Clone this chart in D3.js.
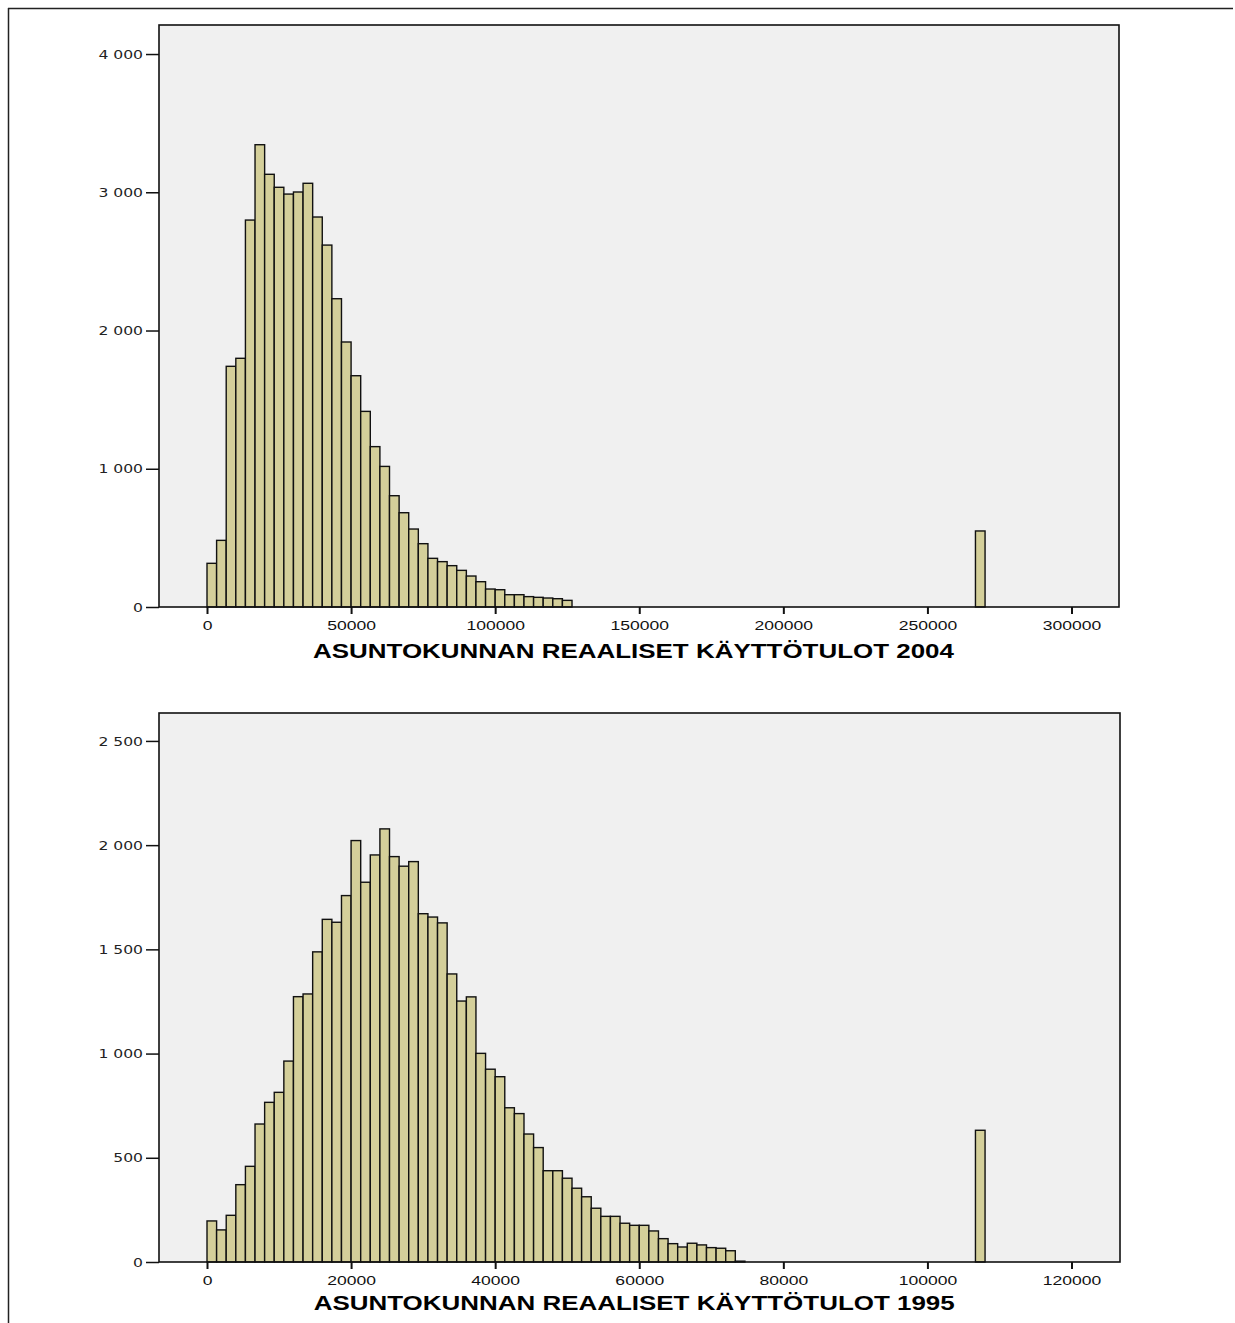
<!DOCTYPE html>
<html>
<head>
<meta charset="utf-8">
<script src="https://cdn.jsdelivr.net/npm/d3@7"></script>
<style>
  body { margin: 0; background: #fff; }
</style>
</head>
<body>
<div id="chart"></div>
<script>
// histogram counts (bin width = 1/30 of 100000, 1/15 of 20000)
var bins2004 = [316, 482, 1741, 1799, 2799, 3344, 3130, 3036, 2987, 3002, 3065, 2821, 2618, 2230, 1917, 1673,
  1415, 1160, 1017, 805, 682, 564, 458, 352, 328, 299, 265, 224, 183, 130, 125, 89, 89, 75, 70, 65, 60, 48];
var outlierBin2004 = [80];
var outlierCount2004 = [550];
var binWidth2004 = 100000 / 30;
var xTicks2004 = [0, 50000, 100000, 150000, 200000, 250000, 300000];
var yTicks2004 = [0, 1000, 2000, 3000, 4000];

var bins1995 = [197, 154, 224, 371, 459, 662, 766, 814, 964, 1273, 1286, 1488, 1644, 1630, 1758, 2022, 1822,
  1953, 2078, 1945, 1899, 1921, 1671, 1655, 1627, 1382, 1252, 1272, 1001, 925, 889, 740, 712, 614, 549, 438,
  438, 402, 354, 313, 258, 219, 219, 186, 176, 176, 149, 112, 88, 72, 90, 82, 69, 66, 54, 4];
var outlierBin1995 = [80];
var outlierCount1995 = [632];
var binWidth1995 = 20000 / 15;
var xTicks1995 = [0, 20000, 40000, 60000, 80000, 100000, 120000];
var yTicks1995 = [0, 500, 1000, 1500, 2000, 2500];

var titles = ["ASUNTOKUNNAN REAALISET KÄYTTÖTULOT 2004", "ASUNTOKUNNAN REAALISET KÄYTTÖTULOT 1995"];

var W = 1235, H = 1323;
var svg = d3.select("#chart").append("svg")
  .attr("width", W).attr("height", H);

// outer frame (only top and left visible)
svg.append("line").attr("x1", 8).attr("x2", 1233).attr("y1", 8.5).attr("y2", 8.5)
  .attr("stroke", "#222").attr("stroke-width", 1.5);
svg.append("line").attr("x1", 8.5).attr("x2", 8.5).attr("y1", 8).attr("y2", H)
  .attr("stroke", "#222").attr("stroke-width", 1.5);

var spaceFmt = function(d) { return d3.format(",")(d).replace(/,/g, " "); };

// the original's text is stretched sideways
function stretch(sel, s) {
  sel.each(function() {
    var t = d3.select(this);
    var x0 = +t.attr("x") || 0;
    t.attr("x", x0 / s).attr("transform", "scale(" + s + ",1)");
  });
}

function histogram(opt) {
  var x = d3.scaleLinear().domain(opt.xDomain).range([opt.left, opt.right]);
  var y = d3.scaleLinear().domain(opt.yDomain).range([opt.bottom, opt.top]);
  var g = svg.append("g");

  g.append("rect")
    .attr("x", opt.left).attr("y", opt.top)
    .attr("width", opt.right - opt.left).attr("height", opt.bottom - opt.top)
    .attr("fill", "#f0f0f0").attr("stroke", "none");

  var data = opt.counts.map(function(c, i) { return {bin: i, count: c}; });
  opt.outBins.forEach(function(b, i) { data.push({bin: b, count: opt.outCounts[i]}); });

  g.selectAll("rect.bar")
    .data(data)
    .join("rect")
    .attr("class", "bar")
    .attr("x", function(d) { return x(d.bin * opt.binWidth); })
    .attr("width", function(d) { return x((d.bin + 1) * opt.binWidth) - x(d.bin * opt.binWidth); })
    .attr("y", function(d) { return y(d.count); })
    .attr("height", function(d) { return y(0) - y(d.count); })
    .attr("fill", "#d4cf9a")
    .attr("stroke", "#111")
    .attr("stroke-width", 1.4);

  // plot frame
  g.append("rect")
    .attr("x", opt.left).attr("y", opt.top)
    .attr("width", opt.right - opt.left).attr("height", opt.bottom - opt.top)
    .attr("fill", "none").attr("stroke", "#111").attr("stroke-width", 1.6);

  // y axis
  var yAxis = g.append("g")
    .attr("transform", "translate(" + opt.left + ",0)")
    .call(d3.axisLeft(y).tickValues(opt.yTicks).tickSize(13).tickPadding(3).tickFormat(spaceFmt));
  yAxis.select(".domain").remove();
  yAxis.selectAll(".tick line").attr("stroke", "#111").attr("stroke-width", 1.5);
  yAxis.selectAll("text").attr("font-family", "DejaVu Sans, sans-serif")
    .attr("font-size", 13).attr("fill", "#222")
    .call(stretch, 1.2);

  // x axis
  var xAxis = g.append("g")
    .attr("transform", "translate(0," + opt.bottom + ")")
    .call(d3.axisBottom(x).tickValues(opt.xTicks).tickSize(7).tickPadding(6).tickFormat(d3.format("d")));
  xAxis.select(".domain").remove();
  xAxis.selectAll(".tick line").attr("stroke", "#111").attr("stroke-width", 2);
  xAxis.selectAll("text").attr("font-family", "Liberation Sans, Arial, sans-serif")
    .attr("font-size", 13.5).attr("fill", "#111")
    .call(stretch, 1.3);

  g.append("text")
    .attr("x", x(opt.titleAt)).attr("y", opt.bottom + opt.titleDy)
    .attr("text-anchor", "middle")
    .attr("font-family", "Liberation Sans, Arial, sans-serif")
    .attr("font-weight", "bold").attr("font-size", 20)
    .attr("textLength", 641).attr("lengthAdjust", "spacingAndGlyphs")
    .attr("fill", "#000")
    .text(opt.title);
}

histogram({
  left: 159, right: 1119, top: 25, bottom: 607,
  xDomain: [-16657, 316480], yDomain: [0, 4210],
  counts: bins2004, outBins: outlierBin2004, outCounts: outlierCount2004,
  binWidth: binWidth2004, xTicks: xTicks2004, yTicks: yTicks2004,
  title: titles[0], titleAt: 148000, titleDy: 51
});

histogram({
  left: 159, right: 1120, top: 713, bottom: 1262,
  xDomain: [-6663, 126731], yDomain: [0, 2634],
  counts: bins1995, outBins: outlierBin1995, outCounts: outlierCount1995,
  binWidth: binWidth1995, xTicks: xTicks1995, yTicks: yTicks1995,
  title: titles[1], titleAt: 59300, titleDy: 48
});
</script>
</body>
</html>
